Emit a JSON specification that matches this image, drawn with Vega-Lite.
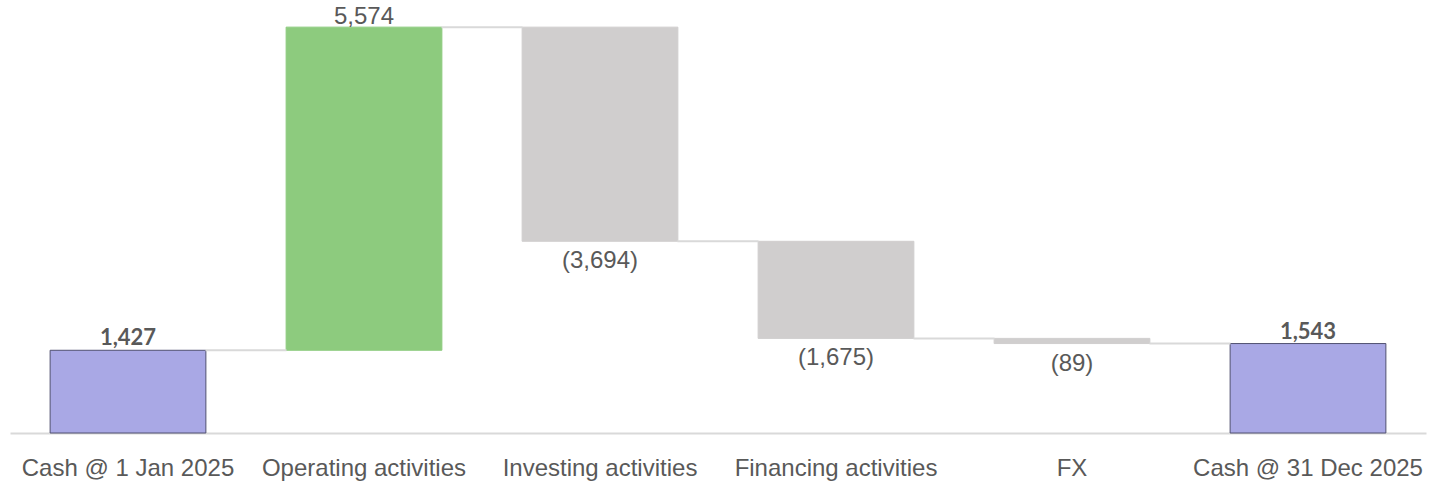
{
  "$schema": "https://vega.github.io/schema/vega-lite/v6.json",
  "autosize": {"type": "none"},
  "padding": {"left": 10, "top": 4, "right": 5, "bottom": 48},
  "width": 1416,
  "height": 429,
  "background": "#ffffff",
  "config": {"view": {"stroke": null}},
  "data": {
    "values": [
      {"cat": "Cash @ 1 Jan 2025", "lo": 0, "hi": 1427, "kind": "total", "label": "1,427", "ly": 1427, "level": 1427},
      {"cat": "Operating activities", "lo": 1427, "hi": 7001, "kind": "pos", "label": "5,574", "ly": 7001, "level": 7001},
      {"cat": "Investing activities", "lo": 3307, "hi": 7001, "kind": "neg", "label": "(3,694)", "ly": 3307, "level": 3307},
      {"cat": "Financing activities", "lo": 1632, "hi": 3307, "kind": "neg", "label": "(1,675)", "ly": 1632, "level": 1632},
      {"cat": "FX", "lo": 1543, "hi": 1632, "kind": "neg", "label": "(89)", "ly": 1543, "level": 1543},
      {"cat": "Cash @ 31 Dec 2025", "lo": 0, "hi": 1543, "kind": "total", "label": "1,543", "ly": 1543, "level": null}
    ]
  },
  "layer": [
    {
      "mark": {"type": "bar", "strokeWidth": 1},
      "encoding": {
        "x": {
          "field": "cat",
          "type": "nominal",
          "sort": null,
          "scale": {
            "paddingInner": 0.34,
            "paddingOuter": 0.17
          },
          "axis": {
            "title": null,
            "labelAngle": 0,
            "ticks": false,
            "labelPadding": 23,
            "labelLimit": 0,
            "labelFont": "Liberation Sans",
            "labelFontSize": 24,
            "labelColor": "#595959",
            "domainColor": "#D9D9D9",
            "domainWidth": 2,
            "grid": false
          }
        },
        "y": {
          "field": "lo",
          "type": "quantitative",
          "scale": {"domain": [0, 7400], "nice": false, "zero": true},
          "axis": null
        },
        "y2": {"field": "hi"},
        "fill": {
          "field": "kind",
          "type": "nominal",
          "scale": {"domain": ["total", "pos", "neg"], "range": ["#A9A8E5", "#8DCB7E", "#D0CECE"]},
          "legend": null
        },
        "stroke": {
          "field": "kind",
          "type": "nominal",
          "scale": {"domain": ["total", "pos", "neg"], "range": ["#505070", "#8DCB7E", "#D0CECE"]},
          "legend": null
        }
      }
    },
    {
      "transform": [{"filter": "datum.level != null"}],
      "mark": {"type": "tick", "color": "#D9D9D9", "thickness": 2, "size": 81, "opacity": 1, "xOffset": 118},
      "encoding": {
        "x": {"field": "cat", "type": "nominal", "sort": null},
        "y": {"field": "level", "type": "quantitative"}
      }
    },
    {
      "transform": [{"filter": "datum.kind == 'total'"}],
      "mark": {"type": "text", "font": "Lato", "fontWeight": "bold", "fontSize": 22, "color": "#595959", "baseline": "alphabetic", "dy": -5},
      "encoding": {
        "x": {"field": "cat", "type": "nominal", "sort": null},
        "y": {"field": "ly", "type": "quantitative"},
        "text": {"field": "label", "type": "nominal"}
      }
    },
    {
      "transform": [{"filter": "datum.kind == 'pos'"}],
      "mark": {"type": "text", "font": "Liberation Sans", "fontSize": 24, "color": "#595959", "baseline": "alphabetic", "dy": -3},
      "encoding": {
        "x": {"field": "cat", "type": "nominal", "sort": null},
        "y": {"field": "ly", "type": "quantitative"},
        "text": {"field": "label", "type": "nominal"}
      }
    },
    {
      "transform": [{"filter": "datum.kind == 'neg'"}],
      "mark": {"type": "text", "font": "Liberation Sans", "fontSize": 24, "color": "#595959", "baseline": "alphabetic", "dy": 27},
      "encoding": {
        "x": {"field": "cat", "type": "nominal", "sort": null},
        "y": {"field": "ly", "type": "quantitative"},
        "text": {"field": "label", "type": "nominal"}
      }
    }
  ]
}
